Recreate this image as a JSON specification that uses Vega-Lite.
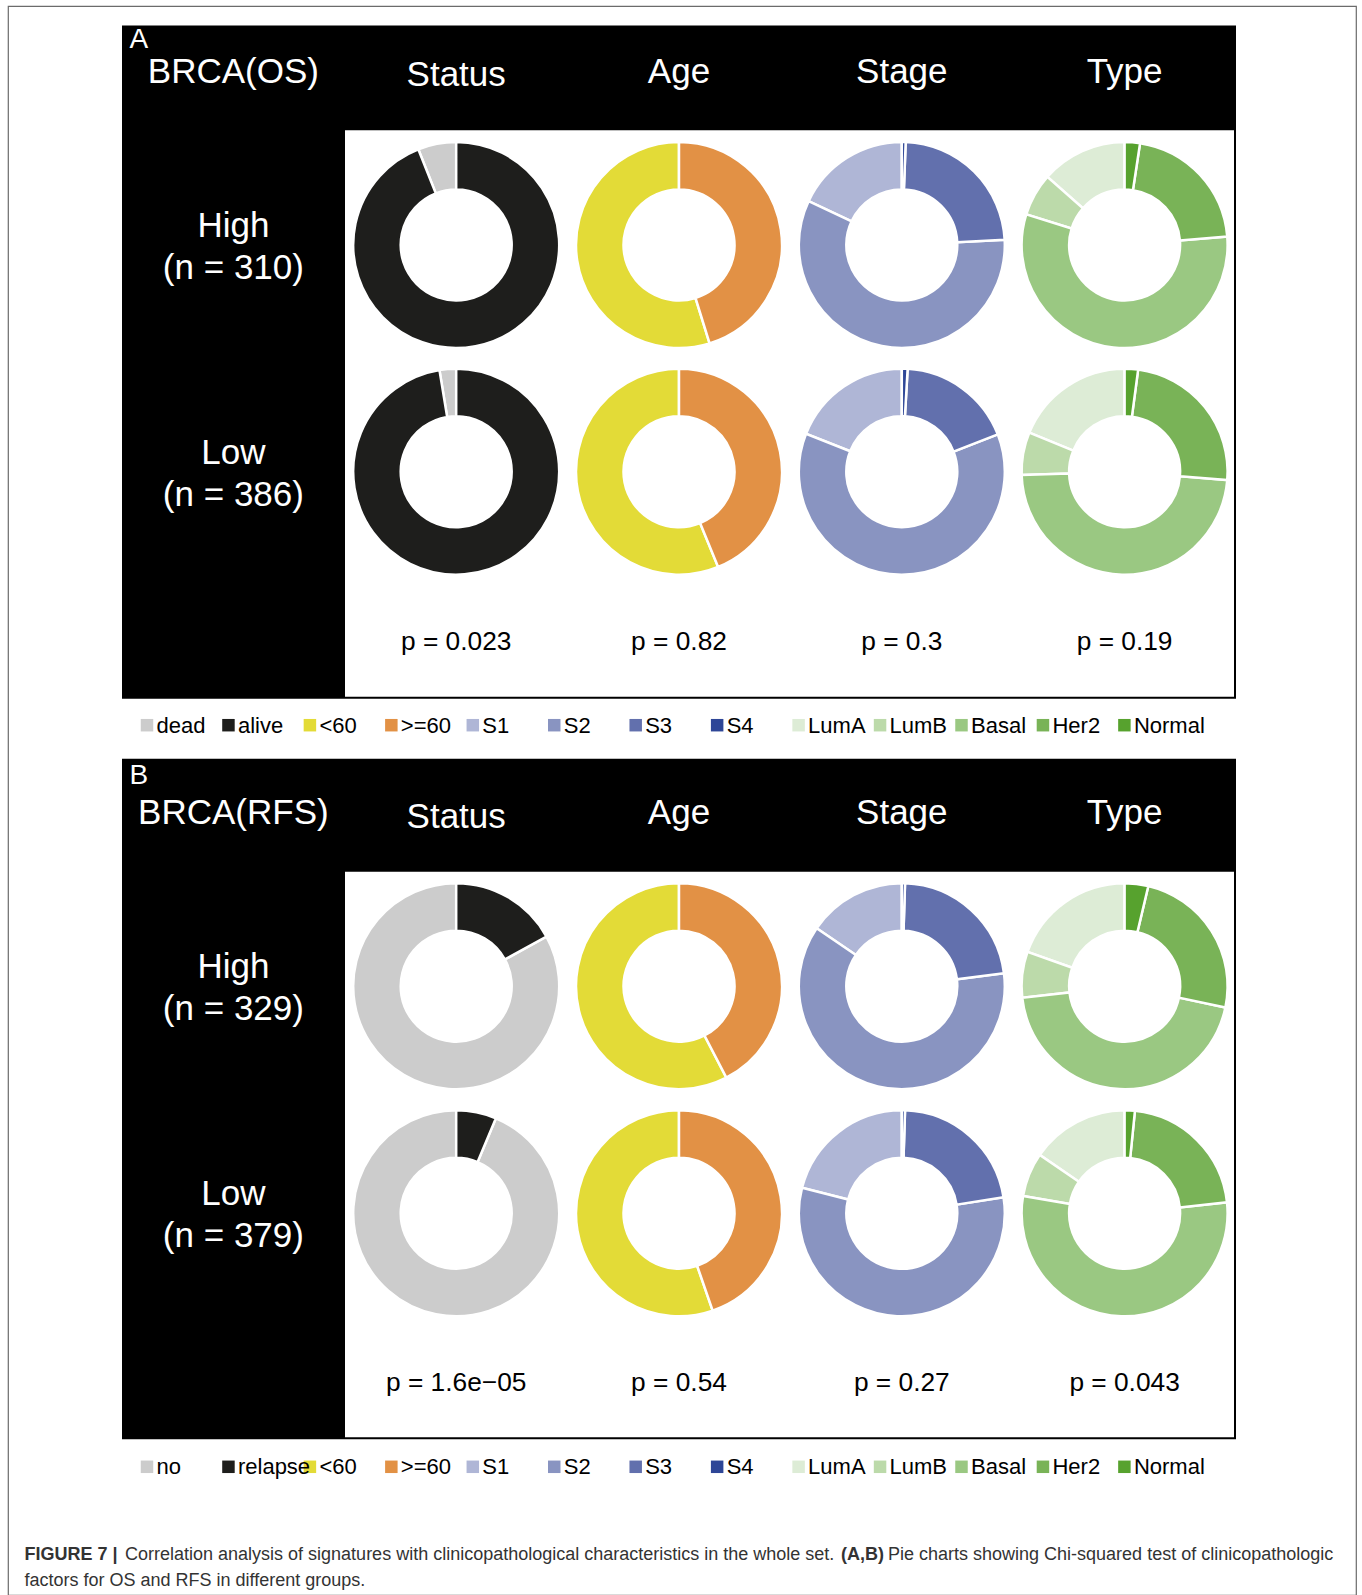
{
  "$schema": "https://vega.github.io/schema/vega-lite/v6.json",
  "width": 1362,
  "height": 1595,
  "autosize": {"type": "fit", "contains": "padding"},
  "padding": {"left": 8, "top": 6, "right": 6, "bottom": 0},
  "background": "white",
  "config": {
    "view": {"stroke": "#6b6b6b", "strokeWidth": 1.2},
    "axis": {"disable": true},
    "legend": {"disable": true},
    "text": {"font": "Liberation Sans"}
  },
  "resolve": {"scale": {"x": "independent", "y": "independent"}},
  "datasets": {
    "panels": [
      {"panel": "A", "letter": "A"},
      {"panel": "B", "letter": "B"}
    ],
    "headers": [
      {"panel": "A", "col": "label", "text": "BRCA(OS)"},
      {"panel": "A", "col": "Status", "text": "Status"},
      {"panel": "A", "col": "Age", "text": "Age"},
      {"panel": "A", "col": "Stage", "text": "Stage"},
      {"panel": "A", "col": "Type", "text": "Type"},
      {"panel": "B", "col": "label", "text": "BRCA(RFS)"},
      {"panel": "B", "col": "Status", "text": "Status"},
      {"panel": "B", "col": "Age", "text": "Age"},
      {"panel": "B", "col": "Stage", "text": "Stage"},
      {"panel": "B", "col": "Type", "text": "Type"}
    ],
    "groups": [
      {"panel": "A", "grp": "High", "lab": "High\n(n = 310)"},
      {"panel": "A", "grp": "Low", "lab": "Low\n(n = 386)"},
      {"panel": "B", "grp": "High", "lab": "High\n(n = 329)"},
      {"panel": "B", "grp": "Low", "lab": "Low\n(n = 379)"}
    ],
    "pvals": [
      {"panel": "A", "var": "Status", "p": "p = 0.023"},
      {"panel": "A", "var": "Age", "p": "p = 0.82"},
      {"panel": "A", "var": "Stage", "p": "p = 0.3"},
      {"panel": "A", "var": "Type", "p": "p = 0.19"},
      {"panel": "B", "var": "Status", "p": "p = 1.6e\u221205"},
      {"panel": "B", "var": "Age", "p": "p = 0.54"},
      {"panel": "B", "var": "Stage", "p": "p = 0.27"},
      {"panel": "B", "var": "Type", "p": "p = 0.043"}
    ],
    "slices": [
      {"panel": "A", "grp": "High", "var": "Status", "cat": "dead", "level": 1, "pct": 6.0},
      {"panel": "A", "grp": "High", "var": "Status", "cat": "alive", "level": 2, "pct": 94.0},
      {"panel": "A", "grp": "High", "var": "Age", "cat": "<60", "level": 1, "pct": 54.8},
      {"panel": "A", "grp": "High", "var": "Age", "cat": ">=60", "level": 2, "pct": 45.2},
      {"panel": "A", "grp": "High", "var": "Stage", "cat": "S1", "level": 1, "pct": 18.0},
      {"panel": "A", "grp": "High", "var": "Stage", "cat": "S2", "level": 2, "pct": 57.8},
      {"panel": "A", "grp": "High", "var": "Stage", "cat": "S3", "level": 3, "pct": 23.6},
      {"panel": "A", "grp": "High", "var": "Stage", "cat": "S4", "level": 4, "pct": 0.6},
      {"panel": "A", "grp": "High", "var": "Type", "cat": "LumA", "level": 1, "pct": 13.5},
      {"panel": "A", "grp": "High", "var": "Type", "cat": "LumB", "level": 2, "pct": 6.7},
      {"panel": "A", "grp": "High", "var": "Type", "cat": "Basal", "level": 3, "pct": 56.1},
      {"panel": "A", "grp": "High", "var": "Type", "cat": "Her2", "level": 4, "pct": 21.3},
      {"panel": "A", "grp": "High", "var": "Type", "cat": "Normal", "level": 5, "pct": 2.4},
      {"panel": "A", "grp": "Low", "var": "Status", "cat": "dead", "level": 1, "pct": 2.6},
      {"panel": "A", "grp": "Low", "var": "Status", "cat": "alive", "level": 2, "pct": 97.4},
      {"panel": "A", "grp": "Low", "var": "Age", "cat": "<60", "level": 1, "pct": 56.2},
      {"panel": "A", "grp": "Low", "var": "Age", "cat": ">=60", "level": 2, "pct": 43.8},
      {"panel": "A", "grp": "Low", "var": "Stage", "cat": "S1", "level": 1, "pct": 19.0},
      {"panel": "A", "grp": "Low", "var": "Stage", "cat": "S2", "level": 2, "pct": 61.9},
      {"panel": "A", "grp": "Low", "var": "Stage", "cat": "S3", "level": 3, "pct": 18.2},
      {"panel": "A", "grp": "Low", "var": "Stage", "cat": "S4", "level": 4, "pct": 0.9},
      {"panel": "A", "grp": "Low", "var": "Type", "cat": "LumA", "level": 1, "pct": 18.8},
      {"panel": "A", "grp": "Low", "var": "Type", "cat": "LumB", "level": 2, "pct": 6.7},
      {"panel": "A", "grp": "Low", "var": "Type", "cat": "Basal", "level": 3, "pct": 48.2},
      {"panel": "A", "grp": "Low", "var": "Type", "cat": "Her2", "level": 4, "pct": 24.2},
      {"panel": "A", "grp": "Low", "var": "Type", "cat": "Normal", "level": 5, "pct": 2.1},
      {"panel": "B", "grp": "High", "var": "Status", "cat": "no", "level": 1, "pct": 83.0},
      {"panel": "B", "grp": "High", "var": "Status", "cat": "relapse", "level": 2, "pct": 17.0},
      {"panel": "B", "grp": "High", "var": "Age", "cat": "<60", "level": 1, "pct": 57.6},
      {"panel": "B", "grp": "High", "var": "Age", "cat": ">=60", "level": 2, "pct": 42.4},
      {"panel": "B", "grp": "High", "var": "Stage", "cat": "S1", "level": 1, "pct": 15.5},
      {"panel": "B", "grp": "High", "var": "Stage", "cat": "S2", "level": 2, "pct": 61.5},
      {"panel": "B", "grp": "High", "var": "Stage", "cat": "S3", "level": 3, "pct": 22.5},
      {"panel": "B", "grp": "High", "var": "Stage", "cat": "S4", "level": 4, "pct": 0.5},
      {"panel": "B", "grp": "High", "var": "Type", "cat": "LumA", "level": 1, "pct": 19.6},
      {"panel": "B", "grp": "High", "var": "Type", "cat": "LumB", "level": 2, "pct": 7.2},
      {"panel": "B", "grp": "High", "var": "Type", "cat": "Basal", "level": 3, "pct": 44.9},
      {"panel": "B", "grp": "High", "var": "Type", "cat": "Her2", "level": 4, "pct": 24.6},
      {"panel": "B", "grp": "High", "var": "Type", "cat": "Normal", "level": 5, "pct": 3.7},
      {"panel": "B", "grp": "Low", "var": "Status", "cat": "no", "level": 1, "pct": 93.7},
      {"panel": "B", "grp": "Low", "var": "Status", "cat": "relapse", "level": 2, "pct": 6.3},
      {"panel": "B", "grp": "Low", "var": "Age", "cat": "<60", "level": 1, "pct": 55.3},
      {"panel": "B", "grp": "Low", "var": "Age", "cat": ">=60", "level": 2, "pct": 44.7},
      {"panel": "B", "grp": "Low", "var": "Stage", "cat": "S1", "level": 1, "pct": 21.0},
      {"panel": "B", "grp": "Low", "var": "Stage", "cat": "S2", "level": 2, "pct": 56.5},
      {"panel": "B", "grp": "Low", "var": "Stage", "cat": "S3", "level": 3, "pct": 22.0},
      {"panel": "B", "grp": "Low", "var": "Stage", "cat": "S4", "level": 4, "pct": 0.5},
      {"panel": "B", "grp": "Low", "var": "Type", "cat": "LumA", "level": 1, "pct": 15.4},
      {"panel": "B", "grp": "Low", "var": "Type", "cat": "LumB", "level": 2, "pct": 6.9},
      {"panel": "B", "grp": "Low", "var": "Type", "cat": "Basal", "level": 3, "pct": 54.4},
      {"panel": "B", "grp": "Low", "var": "Type", "cat": "Her2", "level": 4, "pct": 21.7},
      {"panel": "B", "grp": "Low", "var": "Type", "cat": "Normal", "level": 5, "pct": 1.6}
    ],
    "legend": [
      {"panel": "A", "key": "Status-1", "cat": "dead"},
      {"panel": "A", "key": "Status-2", "cat": "alive"},
      {"panel": "A", "key": "Age-1", "cat": "<60"},
      {"panel": "A", "key": "Age-2", "cat": ">=60"},
      {"panel": "A", "key": "Stage-1", "cat": "S1"},
      {"panel": "A", "key": "Stage-2", "cat": "S2"},
      {"panel": "A", "key": "Stage-3", "cat": "S3"},
      {"panel": "A", "key": "Stage-4", "cat": "S4"},
      {"panel": "A", "key": "Type-1", "cat": "LumA"},
      {"panel": "A", "key": "Type-2", "cat": "LumB"},
      {"panel": "A", "key": "Type-3", "cat": "Basal"},
      {"panel": "A", "key": "Type-4", "cat": "Her2"},
      {"panel": "A", "key": "Type-5", "cat": "Normal"},
      {"panel": "B", "key": "Status-1", "cat": "no"},
      {"panel": "B", "key": "Status-2", "cat": "relapse"},
      {"panel": "B", "key": "Age-1", "cat": "<60"},
      {"panel": "B", "key": "Age-2", "cat": ">=60"},
      {"panel": "B", "key": "Stage-1", "cat": "S1"},
      {"panel": "B", "key": "Stage-2", "cat": "S2"},
      {"panel": "B", "key": "Stage-3", "cat": "S3"},
      {"panel": "B", "key": "Stage-4", "cat": "S4"},
      {"panel": "B", "key": "Type-1", "cat": "LumA"},
      {"panel": "B", "key": "Type-2", "cat": "LumB"},
      {"panel": "B", "key": "Type-3", "cat": "Basal"},
      {"panel": "B", "key": "Type-4", "cat": "Her2"},
      {"panel": "B", "key": "Type-5", "cat": "Normal"}
    ],
    "caption": [
      {"line": "1", "seg": "fig", "text": "FIGURE 7 |"},
      {"line": "1", "seg": "t1", "text": "Correlation analysis of signatures with clinicopathological characteristics in the whole set."},
      {"line": "1", "seg": "ab", "text": "(A,B)"},
      {"line": "1", "seg": "t2", "text": "Pie charts showing Chi-squared test of clinicopathologic"},
      {"line": "2", "seg": "t3", "text": "factors for OS and RFS in different groups."}
    ]
  },
  "layer": [
    {
      "data": {"name": "panels"},
      "transform": [{"filter": "datum.panel === 'A'"}],
      "mark": {"type": "rect", "color": "#000000"},
      "encoding": {
        "x": {"field": "panel", "type": "nominal", "scale": {"type": "band", "domain": ["A"], "range": [114, 1228], "paddingInner": 0, "paddingOuter": 0}},
        "y": {"field": "panel", "type": "nominal", "scale": {"type": "band", "domain": ["A"], "range": [19.4, 692.8], "paddingInner": 0, "paddingOuter": 0}}
      }
    },
    {
      "data": {"name": "panels"},
      "transform": [{"filter": "datum.panel === 'A'"}],
      "mark": {"type": "rect", "color": "#ffffff"},
      "encoding": {
        "x": {"field": "panel", "type": "nominal", "scale": {"type": "band", "domain": ["A"], "range": [337, 1226], "paddingInner": 0, "paddingOuter": 0}},
        "y": {"field": "panel", "type": "nominal", "scale": {"type": "band", "domain": ["A"], "range": [124.2, 690.8], "paddingInner": 0, "paddingOuter": 0}}
      }
    },
    {
      "data": {"name": "panels"},
      "transform": [{"filter": "datum.panel === 'B'"}],
      "mark": {"type": "rect", "color": "#000000"},
      "encoding": {
        "x": {"field": "panel", "type": "nominal", "scale": {"type": "band", "domain": ["B"], "range": [114, 1228], "paddingInner": 0, "paddingOuter": 0}},
        "y": {"field": "panel", "type": "nominal", "scale": {"type": "band", "domain": ["B"], "range": [752.8, 1433.3], "paddingInner": 0, "paddingOuter": 0}}
      }
    },
    {
      "data": {"name": "panels"},
      "transform": [{"filter": "datum.panel === 'B'"}],
      "mark": {"type": "rect", "color": "#ffffff"},
      "encoding": {
        "x": {"field": "panel", "type": "nominal", "scale": {"type": "band", "domain": ["B"], "range": [337, 1226], "paddingInner": 0, "paddingOuter": 0}},
        "y": {"field": "panel", "type": "nominal", "scale": {"type": "band", "domain": ["B"], "range": [865.7, 1431.3], "paddingInner": 0, "paddingOuter": 0}}
      }
    },
    {
      "data": {"name": "panels"},
      "mark": {"type": "text", "color": "#ffffff", "fontSize": 28, "align": "left", "baseline": "alphabetic", "dx": -104},
      "encoding": {
        "text": {"field": "letter"},
        "x": {"datum": "label", "type": "nominal", "scale": {"type": "band", "domain": ["label", "Status", "Age", "Stage", "Type"], "range": [114, 1228], "paddingInner": 0, "paddingOuter": 0}},
        "y": {"field": "panel", "type": "nominal", "scale": {"type": "point", "domain": ["A", "B"], "range": [42.3, 777.7], "padding": 0}}
      }
    },
    {
      "data": {"name": "headers"},
      "transform": [{"filter": "datum.col !== 'Status'"}],
      "mark": {"type": "text", "color": "#ffffff", "fontSize": 35, "align": "center", "baseline": "alphabetic"},
      "encoding": {
        "text": {"field": "text"},
        "x": {"field": "col", "type": "nominal", "scale": {"type": "band", "domain": ["label", "Status", "Age", "Stage", "Type"], "range": [114, 1228], "paddingInner": 0, "paddingOuter": 0}},
        "y": {"field": "panel", "type": "nominal", "scale": {"type": "point", "domain": ["A", "B"], "range": [76.5, 818], "padding": 0}}
      }
    },
    {
      "data": {"name": "headers"},
      "transform": [{"filter": "datum.col === 'Status'"}],
      "mark": {"type": "text", "color": "#ffffff", "fontSize": 35, "align": "center", "baseline": "alphabetic", "dy": 3.5},
      "encoding": {
        "text": {"field": "text"},
        "x": {"field": "col", "type": "nominal", "scale": {"type": "band", "domain": ["label", "Status", "Age", "Stage", "Type"], "range": [114, 1228], "paddingInner": 0, "paddingOuter": 0}},
        "y": {"field": "panel", "type": "nominal", "scale": {"type": "point", "domain": ["A", "B"], "range": [76.5, 818], "padding": 0}}
      }
    },
    {
      "data": {"name": "groups"},
      "transform": [{"filter": "datum.panel === 'A'"}],
      "mark": {"type": "text", "color": "#ffffff", "fontSize": 35, "align": "center", "baseline": "alphabetic", "lineBreak": "\n", "lineHeight": 42, "dy": -8},
      "encoding": {
        "text": {"field": "lab"},
        "x": {"datum": "label", "type": "nominal", "scale": {"type": "band", "domain": ["label", "Status", "Age", "Stage", "Type"], "range": [114, 1228], "paddingInner": 0, "paddingOuter": 0}},
        "y": {"field": "grp", "type": "nominal", "scale": {"type": "point", "domain": ["High", "Low"], "range": [239, 465.7], "padding": 0}}
      }
    },
    {
      "data": {"name": "groups"},
      "transform": [{"filter": "datum.panel === 'B'"}],
      "mark": {"type": "text", "color": "#ffffff", "fontSize": 35, "align": "center", "baseline": "alphabetic", "lineBreak": "\n", "lineHeight": 42, "dy": -8},
      "encoding": {
        "text": {"field": "lab"},
        "x": {"datum": "label", "type": "nominal", "scale": {"type": "band", "domain": ["label", "Status", "Age", "Stage", "Type"], "range": [114, 1228], "paddingInner": 0, "paddingOuter": 0}},
        "y": {"field": "grp", "type": "nominal", "scale": {"type": "point", "domain": ["High", "Low"], "range": [980.2, 1207.3], "padding": 0}}
      }
    },
    {
      "data": {"name": "slices"},
      "transform": [
        {"filter": "datum.panel === 'A'"},
        {"stack": "pct", "groupby": ["panel", "grp", "var"], "sort": [{"field": "level", "order": "descending"}], "as": ["v0", "v1"], "offset": "normalize"}
      ],
      "mark": {"type": "arc", "radius": 103, "radius2": 55.5, "stroke": "#ffffff", "strokeWidth": 2.5},
      "encoding": {
        "x": {"field": "var", "type": "nominal", "scale": {"type": "band", "domain": ["label", "Status", "Age", "Stage", "Type"], "range": [114, 1228], "paddingInner": 0, "paddingOuter": 0}},
        "y": {"field": "grp", "type": "nominal", "scale": {"type": "point", "domain": ["High", "Low"], "range": [239, 465.7], "padding": 0}},
        "theta": {"field": "v0", "type": "quantitative", "scale": {"domain": [0, 1], "range": [0, 6.283185307179586]}},
        "theta2": {"field": "v1"},
        "color": {"field": "cat", "type": "nominal", "legend": null, "scale": {"domain": ["dead", "alive", "no", "relapse", "<60", ">=60", "S1", "S2", "S3", "S4", "LumA", "LumB", "Basal", "Her2", "Normal"], "range": ["#cccccc", "#1e1e1c", "#cccccc", "#1e1e1c", "#e3db37", "#e29145", "#afb6d6", "#8994c1", "#6270ad", "#2e4697", "#ddecd6", "#bcdaaa", "#9ac882", "#79b357", "#57a22e"]}}
      }
    },
    {
      "data": {"name": "slices"},
      "transform": [
        {"filter": "datum.panel === 'B'"},
        {"stack": "pct", "groupby": ["panel", "grp", "var"], "sort": [{"field": "level", "order": "descending"}], "as": ["v0", "v1"], "offset": "normalize"}
      ],
      "mark": {"type": "arc", "radius": 103, "radius2": 55.5, "stroke": "#ffffff", "strokeWidth": 2.5},
      "encoding": {
        "x": {"field": "var", "type": "nominal", "scale": {"type": "band", "domain": ["label", "Status", "Age", "Stage", "Type"], "range": [114, 1228], "paddingInner": 0, "paddingOuter": 0}},
        "y": {"field": "grp", "type": "nominal", "scale": {"type": "point", "domain": ["High", "Low"], "range": [980.2, 1207.3], "padding": 0}},
        "theta": {"field": "v0", "type": "quantitative", "scale": {"domain": [0, 1], "range": [0, 6.283185307179586]}},
        "theta2": {"field": "v1"},
        "color": {"field": "cat", "type": "nominal", "legend": null}
      }
    },
    {
      "data": {"name": "pvals"},
      "mark": {"type": "text", "color": "#000000", "fontSize": 26.3, "align": "center", "baseline": "alphabetic"},
      "encoding": {
        "text": {"field": "p"},
        "x": {"field": "var", "type": "nominal", "scale": {"type": "band", "domain": ["label", "Status", "Age", "Stage", "Type"], "range": [114, 1228], "paddingInner": 0, "paddingOuter": 0}},
        "y": {"field": "panel", "type": "nominal", "scale": {"type": "point", "domain": ["A", "B"], "range": [644.3, 1384.8], "padding": 0}}
      }
    },
    {
      "data": {"name": "legend"},
      "mark": {"type": "square", "size": 156, "filled": true, "opacity": 1},
      "encoding": {
        "x": {"field": "key", "type": "nominal", "scale": {"type": "point", "domain": ["Status-1", "Status-2", "Age-1", "Age-2", "Stage-1", "Stage-2", "Stage-3", "Stage-4", "Type-1", "Type-2", "Type-3", "Type-4", "Type-5"], "range": [139, 1116.4], "padding": 0}},
        "y": {"field": "panel", "type": "nominal", "scale": {"type": "point", "domain": ["A", "B"], "range": [719.2, 1460.8], "padding": 0}},
        "color": {"field": "cat", "type": "nominal", "legend": null}
      }
    },
    {
      "data": {"name": "legend"},
      "mark": {"type": "text", "color": "#000000", "fontSize": 22, "align": "left", "baseline": "alphabetic", "dx": 9.5, "dy": 7.5},
      "encoding": {
        "text": {"field": "cat"},
        "x": {"field": "key", "type": "nominal", "scale": {"type": "point", "domain": ["Status-1", "Status-2", "Age-1", "Age-2", "Stage-1", "Stage-2", "Stage-3", "Stage-4", "Type-1", "Type-2", "Type-3", "Type-4", "Type-5"], "range": [139, 1116.4], "padding": 0}},
        "y": {"field": "panel", "type": "nominal", "scale": {"type": "point", "domain": ["A", "B"], "range": [719.2, 1460.8], "padding": 0}}
      }
    },
    {
      "data": {"name": "caption"},
      "transform": [{"filter": "datum.seg === 'fig'"}],
      "mark": {"type": "text", "color": "#333333", "fontSize": 18, "fontWeight": "bold", "align": "left", "baseline": "alphabetic"},
      "encoding": {
        "text": {"field": "text"},
        "x": {"field": "line", "type": "nominal", "scale": {"type": "point", "domain": ["1", "2"], "range": [16.4, 16.4], "padding": 0}},
        "y": {"field": "line", "type": "nominal", "scale": {"type": "point", "domain": ["1", "2"], "range": [1554, 1579.5], "padding": 0}}
      }
    },
    {
      "data": {"name": "caption"},
      "transform": [{"filter": "datum.seg === 't1'"}],
      "mark": {"type": "text", "color": "#333333", "fontSize": 18, "align": "left", "baseline": "alphabetic", "dx": 100.6},
      "encoding": {
        "text": {"field": "text"},
        "x": {"field": "line", "type": "nominal", "scale": {"type": "point", "domain": ["1", "2"], "range": [16.4, 16.4], "padding": 0}},
        "y": {"field": "line", "type": "nominal", "scale": {"type": "point", "domain": ["1", "2"], "range": [1554, 1579.5], "padding": 0}}
      }
    },
    {
      "data": {"name": "caption"},
      "transform": [{"filter": "datum.seg === 'ab'"}],
      "mark": {"type": "text", "color": "#333333", "fontSize": 18, "fontWeight": "bold", "align": "left", "baseline": "alphabetic", "dx": 816.6},
      "encoding": {
        "text": {"field": "text"},
        "x": {"field": "line", "type": "nominal", "scale": {"type": "point", "domain": ["1", "2"], "range": [16.4, 16.4], "padding": 0}},
        "y": {"field": "line", "type": "nominal", "scale": {"type": "point", "domain": ["1", "2"], "range": [1554, 1579.5], "padding": 0}}
      }
    },
    {
      "data": {"name": "caption"},
      "transform": [{"filter": "datum.seg === 't2'"}],
      "mark": {"type": "text", "color": "#333333", "fontSize": 18, "align": "left", "baseline": "alphabetic", "dx": 863.6},
      "encoding": {
        "text": {"field": "text"},
        "x": {"field": "line", "type": "nominal", "scale": {"type": "point", "domain": ["1", "2"], "range": [16.4, 16.4], "padding": 0}},
        "y": {"field": "line", "type": "nominal", "scale": {"type": "point", "domain": ["1", "2"], "range": [1554, 1579.5], "padding": 0}}
      }
    },
    {
      "data": {"name": "caption"},
      "transform": [{"filter": "datum.seg === 't3'"}],
      "mark": {"type": "text", "color": "#333333", "fontSize": 18, "align": "left", "baseline": "alphabetic"},
      "encoding": {
        "text": {"field": "text"},
        "x": {"field": "line", "type": "nominal", "scale": {"type": "point", "domain": ["1", "2"], "range": [16.4, 16.4], "padding": 0}},
        "y": {"field": "line", "type": "nominal", "scale": {"type": "point", "domain": ["1", "2"], "range": [1554, 1579.5], "padding": 0}}
      }
    }
  ]
}
